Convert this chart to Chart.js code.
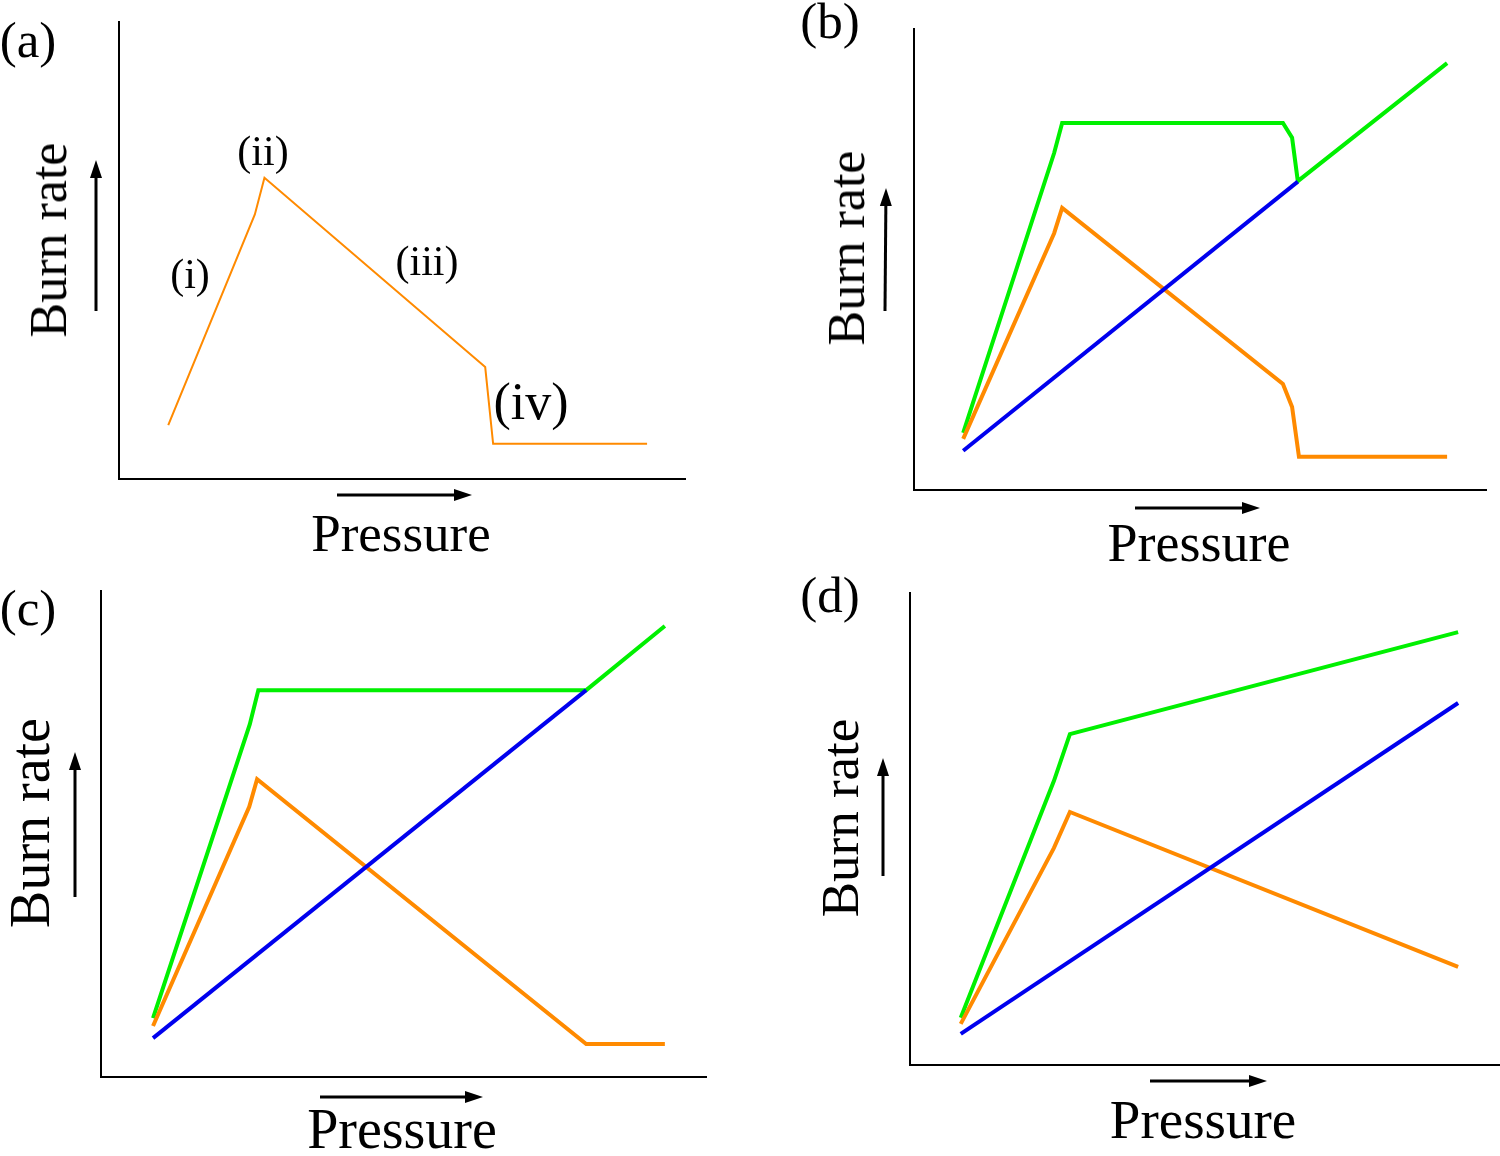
<!DOCTYPE html>
<html>
<head>
<meta charset="utf-8">
<script src="https://cdn.jsdelivr.net/npm/chart.js@4.4.1/dist/chart.umd.min.js"></script>
<style>
    html, body { margin:0; padding:0; background:#fff; }
    #wrap  { position:relative; width:1500px; height:1156px; overflow:hidden; }
    .panel { position:absolute; width:750px; height:578px; }
    .lbl   { position:absolute; font-family:'Liberation Serif', serif; color:#000;
             white-space:nowrap; line-height:1; transform:translate(-50%,-50%); }
    .rot   { transform:translate(-50%,-50%) rotate(-90deg); }
</style>
</head>
<body>
<div id="wrap">
    <div class="panel" style="left:0;top:0"><canvas id="chartA" width="750" height="578"></canvas></div>
    <div class="panel" style="left:750px;top:0"><canvas id="chartB" width="750" height="578"></canvas></div>
    <div class="panel" style="left:0;top:578px"><canvas id="chartC" width="750" height="578"></canvas></div>
    <div class="panel" style="left:750px;top:578px"><canvas id="chartD" width="750" height="578"></canvas></div>
</div>
<script>
// ============================================================
// DATA — x, y in % of each panel's axis box
// ============================================================

const aOrangeX = [8.7, 24.0, 25.7, 64.7, 66.1, 93.3];
const aOrangeY = [11.8, 57.9, 65.9, 24.5, 7.7, 7.7];

const bGreenX  = [8.6, 24.5, 25.9, 64.5, 66.1, 67.1, 93.2];
const bGreenY  = [12.4, 73.1, 79.6, 79.6, 76.4, 67.0, 92.6];
const bOrangeX = [8.6, 24.5, 25.9, 64.5, 66.1, 67.3, 93.2];
const bOrangeY = [11.1, 55.7, 61.2, 23.0, 18.0, 7.2, 7.2];
const bBlueX   = [8.6, 67.1];
const bBlueY   = [8.5, 66.9];

const cGreenX  = [8.6, 24.6, 26.0, 80.2, 93.2];
const cGreenY  = [12.1, 72.6, 79.6, 79.6, 92.8];
const cOrangeX = [8.6, 24.5, 25.8, 80.2, 93.2];
const cOrangeY = [10.5, 55.6, 61.3, 6.8, 6.8];
const cBlueX   = [8.6, 80.2];
const cBlueY   = [8.0, 79.6];

const dGreenX  = [8.6, 24.4, 27.1, 92.9];
const dGreenY  = [10.0, 60.2, 70.1, 91.7];
const dOrangeX = [8.6, 24.4, 27.1, 92.9];
const dOrangeY = [8.7, 46.0, 53.6, 20.8];
const dBlueX   = [8.6, 92.9];
const dBlueY   = [6.6, 76.7];

const panelLetters = ['(a)', '(b)', '(c)', '(d)'];
const regionLabels = ['(i)', '(ii)', '(iii)', '(iv)'];

// ============================================================
// HELPERS
// ============================================================

const GREEN  = '#00f000';
const ORANGE = '#ff8a00';
const BLUE   = '#0000ee';

function pts(xs, ys) {
    return xs.map((x, i) => ({ x: x, y: ys[i] }));
}

function series(xs, ys, color, width) {
    return {
        data: pts(xs, ys),
        borderColor: color,
        borderWidth: width,
        pointRadius: 0,
        tension: 0,
        fill: false,
        clip: false
    };
}

function arrowPlugin(list) {
    return {
        id: 'arrows',
        afterDraw(chart) {
            const ctx = chart.ctx;
            ctx.save();
            ctx.strokeStyle = '#000';
            ctx.fillStyle   = '#000';
            ctx.lineWidth   = 3;
            list.forEach(a => {
                const ang = Math.atan2(a[3] - a[1], a[2] - a[0]);
                const hl = 18, hw = 6;
                const bx = a[2] - hl * Math.cos(ang);
                const by = a[3] - hl * Math.sin(ang);
                ctx.beginPath();
                ctx.moveTo(a[0], a[1]);
                ctx.lineTo(bx, by);
                ctx.stroke();
                ctx.beginPath();
                ctx.moveTo(a[2], a[3]);
                ctx.lineTo(bx + hw * Math.sin(ang), by - hw * Math.cos(ang));
                ctx.lineTo(bx - hw * Math.sin(ang), by + hw * Math.cos(ang));
                ctx.closePath();
                ctx.fill();
            });
            ctx.restore();
        }
    };
}

function axis() {
    return {
        type: 'linear',
        min: 0,
        max: 100,
        grid:   { display: false, drawTicks: false },
        ticks:  { display: false },
        border: { display: true, color: '#000', width: 2 }
    };
}

function makeChart(id, datasets, padding, arrows) {
    return new Chart(document.getElementById(id), {
        type: 'line',
        data: { datasets: datasets },
        options: {
            responsive: false,
            animation: false,
            layout: { padding: padding },
            scales: { x: axis(), y: axis() },
            plugins: { legend: { display: false }, tooltip: { enabled: false } }
        },
        plugins: [arrowPlugin(arrows)]
    });
}

// ============================================================
// CHARTS
// ============================================================

makeChart('chartA',
    [series(aOrangeX, aOrangeY, ORANGE, 2)],
    { left: 119, top: 22, right: 65, bottom: 99 },
    [[96, 311, 96, 160], [337, 495, 472, 495]]);

makeChart('chartB',
    [series(bBlueX, bBlueY, BLUE, 4),
     series(bOrangeX, bOrangeY, ORANGE, 4),
     series(bGreenX, bGreenY, GREEN, 4)],
    { left: 164, top: 29, right: 14, bottom: 88 },
    [[135, 311, 136, 188], [385, 508, 510, 508]]);

makeChart('chartC',
    [series(cBlueX, cBlueY, BLUE, 4),
     series(cOrangeX, cOrangeY, ORANGE, 4),
     series(cGreenX, cGreenY, GREEN, 4)],
    { left: 101, top: 13, right: 44, bottom: 79 },
    [[75, 319, 75, 174], [320, 519, 483, 519]]);

makeChart('chartD',
    [series(dBlueX, dBlueY, BLUE, 4),
     series(dOrangeX, dOrangeY, ORANGE, 4),
     series(dGreenX, dGreenY, GREEN, 4)],
    { left: 160, top: 15, right: 0, bottom: 91 },
    [[133, 298, 133, 180], [400, 503, 517, 503]]);

// ============================================================
// TEXT
// ============================================================

const labels = [
    [panelLetters[0], 28, 40, 51],
    [panelLetters[1], 830, 21, 51],
    [panelLetters[2], 28, 608, 51],
    [panelLetters[3], 830, 595, 51],
    [regionLabels[0], 190, 274, 42],
    [regionLabels[1], 263, 151, 42],
    [regionLabels[2], 427, 261, 42],
    [regionLabels[3], 531, 402, 52],
    ['Pressure', 401, 533, 53],
    ['Pressure', 1199, 543, 54],
    ['Pressure', 402, 1129, 56],
    ['Pressure', 1203, 1119, 55],
    ['Burn rate', 49, 240, 52, true],
    ['Burn rate', 847, 248, 52, true],
    ['Burn rate', 30, 823, 56, true],
    ['Burn rate', 840, 818, 53, true]
];

const wrap = document.getElementById('wrap');
labels.forEach(l => {
    const el = document.createElement('div');
    el.className = 'lbl' + (l[4] ? ' rot' : '');
    el.textContent = l[0];
    el.style.left = l[1] + 'px';
    el.style.top = l[2] + 'px';
    el.style.fontSize = l[3] + 'px';
    wrap.appendChild(el);
});
</script>
</body>
</html>
